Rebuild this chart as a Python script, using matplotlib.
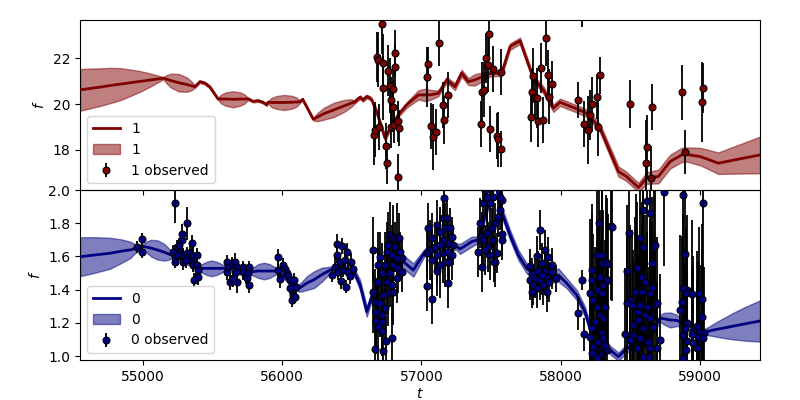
import matplotlib
matplotlib.use("Agg")
import matplotlib.pyplot as plt
import numpy as np

# ---------------- model curves (t, mean, half-width of band) ----------------
t1_model = [54550, 54620, 54694, 54766, 54838, 54909, 54981, 55040, 55100, 55148,
            55175, 55205, 55261, 55318, 55348, 55375,
            55411, 55447, 55483, 55540,
            55565, 55595, 55648, 55700, 55730, 55756,
            55792, 55827, 55863, 55890, 55899,
            55925, 55960, 56015, 56070, 56103, 56129,
            56148, 56224,
            56250, 56300, 56373, 56445, 56495, 56524,
            56536, 56560, 56581, 56608, 56631, 56644, 56679,
            56739, 56787, 56834, 56895, 56978, 57026, 57062, 57122, 57182, 57241,
            57289, 57337, 57385, 57440, 57493, 57576, 57636, 57708, 57803, 57875,
            57947, 57995, 58103, 58187, 58282, 58414, 58470, 58558, 58617, 58701,
            58785, 58868, 58904, 59000, 59060, 59131, 59287, 59430]
f1_model = [20.62, 20.68, 20.74, 20.81, 20.87, 20.93, 20.99, 21.04, 21.09, 21.13,
            21.08, 21.02, 20.93, 20.85, 20.80, 20.76,
            20.98, 20.91, 20.74, 20.23,
            20.22, 20.22, 20.21, 20.22, 20.22, 20.23,
            20.12, 20.15, 20.08, 19.97, 20.08,
            20.07, 20.07, 20.07, 20.08, 20.09, 20.10,
            20.21, 19.34,
            19.42, 19.58, 19.75, 19.92, 20.04, 20.10,
            20.18, 20.30, 20.18, 20.33, 20.26, 20.18, 19.67,
            18.51, 19.09, 19.53, 19.97, 20.40, 20.40, 20.40, 20.47, 21.06, 20.76,
            21.35, 20.98, 21.06, 21.20, 21.33, 21.35, 22.51, 22.76, 21.13, 20.62,
            19.82, 20.08, 19.82, 19.60, 18.95, 17.06, 16.85, 16.36, 16.77, 16.84,
            17.49, 17.78, 17.80, 17.71, 17.58, 17.42, 17.61, 17.78]
s1_model = [0.91, 0.87, 0.82, 0.77, 0.70, 0.58, 0.45, 0.32, 0.17, 0.05,
            0.20, 0.31, 0.38, 0.31, 0.20, 0.05,
            0.05, 0.06, 0.06, 0.05,
            0.20, 0.29, 0.35, 0.29, 0.20, 0.05,
            0.05, 0.05, 0.05, 0.05, 0.05,
            0.20, 0.28, 0.33, 0.28, 0.20, 0.05,
            0.05, 0.05,
            0.17, 0.26, 0.31, 0.26, 0.17, 0.06,
            0.08, 0.08, 0.08, 0.08, 0.08, 0.08, 0.10,
            0.12, 0.10, 0.10, 0.12, 0.20, 0.27, 0.22, 0.12, 0.12, 0.15,
            0.15, 0.15, 0.25, 0.18, 0.12, 0.12, 0.14, 0.14, 0.14, 0.15,
            0.16, 0.16, 0.16, 0.16, 0.18, 0.22, 0.20, 0.20, 0.25, 0.30,
            0.30, 0.31, 0.31, 0.38, 0.42, 0.47, 0.64, 0.80]

t0_model = [54550, 54650, 54766, 54850, 54909, 54957, 55004,
            55030, 55060, 55106, 55155, 55185, 55208,
            55261, 55300, 55411,
            55435, 55460, 55495, 55530, 55555, 55578,
            55640, 55782,
            55805, 55830, 55870, 55910, 55935, 55957,
            56021, 56117,
            56145, 56180, 56230, 56285, 56318, 56344,
            56430, 56511, 56560, 56608, 56655, 56727, 56847, 56870, 56942, 57026,
            57134, 57253, 57277, 57361, 57406, 57470, 57528, 57576, 57636, 57696,
            57756, 57816, 57900, 57983, 58043, 58115, 58174, 58210, 58282, 58354,
            58414, 58474, 58522, 58570, 58641, 58713, 58740, 58785, 58830, 58860,
            58904, 59024, 59060, 59120, 59180, 59237, 59330, 59430]
f0_model = [1.598, 1.608, 1.619, 1.632, 1.639, 1.649, 1.659,
            1.656, 1.650, 1.639, 1.625, 1.615, 1.608,
            1.600, 1.580, 1.528,
            1.528, 1.528, 1.528, 1.528, 1.528, 1.528,
            1.536, 1.508,
            1.510, 1.512, 1.512, 1.512, 1.512, 1.512,
            1.480, 1.408,
            1.420, 1.440, 1.460, 1.490, 1.505, 1.518,
            1.530, 1.518, 1.428, 1.267, 1.387, 1.488, 1.558, 1.568, 1.518, 1.628,
            1.659, 1.659, 1.645, 1.689, 1.700, 1.880, 2.050, 1.869, 1.729, 1.608,
            1.528, 1.488, 1.468, 1.488, 1.438, 1.367, 1.267, 1.167, 1.116, 1.036,
            0.996, 1.046, 1.066, 1.086, 1.127, 1.227, 1.225, 1.217, 1.215, 1.205,
            1.187, 1.146, 1.150, 1.161, 1.170, 1.180, 1.195, 1.211]
s0_model = [0.117, 0.108, 0.093, 0.070, 0.050, 0.020, 0.015,
            0.035, 0.050, 0.058, 0.050, 0.035, 0.020,
            0.020, 0.020, 0.020,
            0.030, 0.040, 0.047, 0.040, 0.030, 0.020,
            0.020, 0.020,
            0.030, 0.042, 0.050, 0.042, 0.030, 0.020,
            0.020, 0.020,
            0.030, 0.042, 0.050, 0.042, 0.030, 0.020,
            0.020, 0.020, 0.030, 0.030, 0.020, 0.020, 0.020, 0.040, 0.040, 0.020,
            0.020, 0.020, 0.030, 0.030, 0.020, 0.020, 0.020, 0.030, 0.030, 0.030,
            0.030, 0.030, 0.030, 0.040, 0.030, 0.030, 0.030, 0.025, 0.025, 0.025,
            0.025, 0.025, 0.025, 0.025, 0.025, 0.020, 0.035, 0.045, 0.035, 0.025,
            0.020, 0.015, 0.025, 0.045, 0.063, 0.080, 0.103, 0.124]

# ---------------- observed data, band "1" ----------------
t1_obs = [56660, 56667, 56679, 56691, 56698, 56715, 56722, 56727, 56746, 56755,
          56758, 56775, 56782, 56782, 56799, 56799, 56806, 56811, 56813, 56834,
          56834, 56842, 57043, 57050, 57069, 57086, 57103, 57127, 57157, 57165,
          57193, 57428, 57433, 57452, 57464, 57480, 57488, 57493, 57516, 57545,
          57553, 57574, 57574, 57785, 57792, 57803, 57816, 57832, 57839, 57861,
          57875, 57892, 57907, 57918, 57935, 58126, 58151, 58167, 58198, 58210,
          58227, 58258, 58270, 58282, 58497, 58612, 58619, 58646, 58657, 58868,
          58894, 59012, 59023]
f1_obs = [18.66, 18.87, 22.05, 21.93, 18.99, 23.49, 20.72, 21.78, 18.18, 17.42,
          21.46, 20.81, 20.18, 18.99, 20.66, 19.89, 19.09, 22.22, 21.64, 19.24,
          16.81, 18.95, 21.17, 21.74, 19.05, 18.57, 18.77, 22.66, 19.96, 19.30,
          20.40, 19.14, 20.52, 20.62, 22.00, 21.71, 23.05, 18.92, 21.54, 18.60,
          18.47, 18.04, 21.39, 19.43, 20.52, 21.23, 20.33, 20.26, 19.24, 21.57,
          19.31, 22.87, 21.26, 20.33, 20.87, 20.18, 24.10, 19.12, 18.87, 19.53,
          20.00, 20.33, 19.02, 21.26, 20.00, 17.42, 18.12, 16.77, 19.87, 20.52,
          17.90, 20.08, 20.69]
e1_obs = [1.3, 1.2, 1.1, 1.2, 1.0, 1.3, 1.4, 1.3, 1.0, 0.9,
          1.1, 1.2, 1.0, 0.9, 1.0, 1.1, 0.8, 1.0, 1.0, 0.9,
          1.0, 0.8, 1.3, 0.75, 1.0, 1.45, 1.0, 1.0, 1.0, 1.05,
          1.0, 1.0, 1.3, 1.2, 1.1, 1.2, 1.0, 1.0, 1.0, 1.0,
          1.2, 0.8, 1.0, 1.1, 1.0, 1.2, 1.0, 1.3, 1.1, 1.1,
          1.0, 1.2, 1.1, 1.2, 1.0, 0.8, 0.75, 1.0, 1.5, 1.1,
          1.2, 1.0, 1.3, 0.8, 1.03, 1.9, 1.4, 1.4, 1.0, 1.2,
          0.95, 1.75, 1.1]

# ---------------- observed data, band "0" ----------------
t0_obs = [
    54957, 54997, 54997,
    55232, 55316, 55284, 55280, 55352, 55220, 55244, 55263, 55268, 55232,
    55256, 55291, 55316, 55340, 55327, 55363, 55388, 55232, 55291, 55352,
    55363, 55388, 55395, 55388, 55368, 55399, 55311,
    55603, 55614, 55603, 55639, 55662, 55675, 55670, 55627, 55675, 55650,
    55722, 55718, 55741, 55758, 55765, 55765, 55746,
    55973, 55973, 56009, 56021, 55985, 56033, 56045, 56057, 56069, 56088,
    56098, 56057, 56081, 56069, 56093,
    56392, 56433, 56392, 56464, 56416, 56452, 56495, 56511, 56380, 56400,
    56440, 56476, 56356, 56423, 56457, 56488,
    56655, 56655, 56667, 56674, 56674, 56715, 56715, 56746, 56791, 56667,
    56722, 56691, 56691, 56715, 56739, 56703, 56751, 56763, 56775, 56799,
    56823, 56842, 56811, 56847, 56859, 56823, 56787, 56799, 56834, 56859,
    56823, 56775, 56751, 56787, 56763, 56727, 56703, 56739, 56799, 56715,
    56691,
    57050, 57074, 57062, 57098, 57110, 57134, 57157, 57186, 57165, 57170,
    57205, 57218, 57229, 57193, 57157, 57134, 57110, 57157, 57193, 57218,
    57074, 57134, 57114, 57170, 57200, 57038, 57038, 57078, 57193,
    57421, 57445, 57469, 57433, 57409, 57445, 57469, 57505, 57480, 57516,
    57529, 57552, 57564, 57577, 57493, 57516, 57564, 57433, 57529, 57541,
    57457, 57493, 57577, 57457, 57577, 57521,
    57851, 57887, 57832, 57911, 57864, 57780, 57792, 57839, 57887, 57935,
    57966, 57780, 57816, 57851, 57900, 57918, 57875, 57803, 57828, 57900,
    57792, 57864, 57935,
    58151, 58126, 58169,
    58277, 58359, 58222, 58294, 58222, 58325, 58258, 58294, 58342, 58210,
    58234, 58258, 58282, 58246, 58222, 58210, 58294, 58270, 58234, 58306,
    58222, 58282, 58330, 58258, 58270, 58306, 58282, 58318, 58366, 58330,
    58334, 58294, 58306, 58306, 58318,
    58492, 58569, 58588, 58593, 58617, 58641, 58670, 58657, 58741, 58540,
    58478, 58581, 58605, 58533, 58581, 58641, 58653, 58497, 58478, 58510,
    58569, 58617, 58677, 58689, 58557, 58605, 58641, 58557, 58521, 58593,
    58665, 58462, 58521, 58569, 58629, 58713, 58497, 58545, 58641, 58693,
    58593, 58636, 58545, 58677,
    58880, 59023, 58894, 58904, 58899, 58940, 58995, 59012, 58868, 58856,
    58909, 58976, 58892, 58952, 59000, 58876, 58940, 58988, 59028, 59023,
    58909, 58952, 58980, 58899, 58880, 58880, 59012]
f0_obs = [
    1.655, 1.703, 1.627,
    1.920, 1.799, 1.733, 1.699, 1.679, 1.628, 1.658, 1.669, 1.628, 1.598,
    1.608, 1.608, 1.618, 1.618, 1.598, 1.604, 1.608, 1.568, 1.568, 1.568,
    1.548, 1.548, 1.518, 1.482, 1.458, 1.478, 1.578,
    1.568, 1.538, 1.508, 1.558, 1.568, 1.538, 1.508, 1.448, 1.448, 1.468,
    1.534, 1.508, 1.482, 1.498, 1.534, 1.428, 1.468,
    1.594, 1.518, 1.548, 1.522, 1.462, 1.502, 1.482, 1.458, 1.438, 1.458,
    1.418, 1.412, 1.367, 1.337, 1.357,
    1.675, 1.663, 1.608, 1.628, 1.568, 1.578, 1.568, 1.522, 1.538, 1.508,
    1.518, 1.508, 1.488, 1.454, 1.418, 1.482,
    1.639, 1.387, 1.327, 1.267, 1.211, 1.207, 1.151, 1.092, 1.107, 1.042,
    1.030, 1.448, 1.548, 1.498, 1.548, 1.598, 1.628, 1.669, 1.729, 1.709,
    1.719, 1.713, 1.658, 1.628, 1.588, 1.588, 1.608, 1.548, 1.528, 1.508,
    1.468, 1.498, 1.448, 1.428, 1.378, 1.367, 1.317, 1.287, 1.387, 1.247,
    1.177,
    1.769, 1.709, 1.639, 1.658, 1.789, 1.749, 1.829, 1.829, 1.954, 1.769,
    1.769, 1.719, 1.669, 1.679, 1.699, 1.669, 1.608, 1.618, 1.628, 1.608,
    1.578, 1.548, 1.512, 1.568, 1.568, 1.618, 1.424, 1.341, 1.438,
    1.799, 1.920, 1.960, 1.719, 1.628, 1.699, 1.739, 1.769, 1.658, 1.699,
    1.799, 1.839, 1.880, 1.940, 1.920, 1.960, 1.960, 1.538, 1.568, 1.618,
    1.639, 1.608, 1.699, 2.000, 1.733, 1.564,
    1.759, 1.639, 1.604, 1.598, 1.558, 1.544, 1.492, 1.512, 1.512, 1.504,
    1.468, 1.458, 1.468, 1.458, 1.468, 1.444, 1.428, 1.428, 1.408, 1.384,
    1.387, 1.488, 1.548,
    1.458, 1.257, 1.131,
    1.799, 1.785, 1.518, 1.558, 1.458, 1.568, 1.608, 1.608, 1.458, 1.378,
    1.337, 1.297, 1.247, 1.207, 1.167, 1.116, 1.137, 1.086, 1.056, 1.056,
    1.016, 1.006, 1.036, 0.986, 1.398, 1.428, 1.478, 1.297, 1.779, 1.552,
    1.458, 1.378, 1.227, 1.107, 1.066,
    1.743, 1.709, 1.658, 1.880, 1.934, 1.859, 1.658, 1.558, 1.990, 1.524,
    1.512, 1.478, 1.448, 1.387, 1.387, 1.378, 1.408, 1.337, 1.317, 1.307,
    1.307, 1.297, 1.307, 1.317, 1.267, 1.247, 1.227, 1.217, 1.187, 1.167,
    1.177, 1.131, 1.127, 1.107, 1.086, 1.096, 1.096, 1.046, 1.046, 1.046,
    0.996, 0.996, 1.528, 1.669,
    1.970, 1.920, 1.613, 1.398, 1.378, 1.372, 1.378, 1.344, 1.323, 1.277,
    1.197, 1.183, 1.163, 1.151, 1.146, 1.127, 1.131, 1.116, 1.137, 1.107,
    1.090, 1.076, 1.050, 1.036, 0.990, 1.408, 1.237]
e0_obs = [
    0.035, 0.04, 0.035,
    0.12, 0.10, 0.06, 0.05, 0.05, 0.04, 0.04, 0.04, 0.05, 0.05,
    0.04, 0.04, 0.04, 0.05, 0.04, 0.05, 0.04, 0.04, 0.05, 0.04,
    0.04, 0.05, 0.04, 0.04, 0.04, 0.05, 0.05,
    0.04, 0.04, 0.05, 0.04, 0.05, 0.04, 0.05, 0.05, 0.07, 0.05,
    0.04, 0.05, 0.05, 0.04, 0.04, 0.05, 0.05,
    0.05, 0.04, 0.04, 0.04, 0.05, 0.04, 0.04, 0.04, 0.04, 0.04,
    0.04, 0.04, 0.04, 0.04, 0.04,
    0.06, 0.05, 0.05, 0.05, 0.05, 0.05, 0.05, 0.05, 0.05, 0.05,
    0.04, 0.05, 0.04, 0.05, 0.04, 0.05,
    0.20, 0.25, 0.20, 0.20, 0.20, 0.20, 0.15, 0.15, 0.15, 0.20,
    0.20, 0.20, 0.20, 0.18, 0.20, 0.15, 0.18, 0.20, 0.20, 0.20,
    0.20, 0.15, 0.15, 0.12, 0.12, 0.15, 0.18, 0.20, 0.15, 0.12,
    0.15, 0.20, 0.20, 0.20, 0.20, 0.18, 0.20, 0.18, 0.20, 0.20,
    0.20,
    0.15, 0.15, 0.18, 0.15, 0.15, 0.15, 0.12, 0.12, 0.12, 0.15,
    0.12, 0.12, 0.12, 0.15, 0.15, 0.18, 0.18, 0.18, 0.15, 0.15,
    0.18, 0.20, 0.15, 0.15, 0.15, 0.15, 0.15, 0.15, 0.15,
    0.15, 0.15, 0.15, 0.15, 0.15, 0.15, 0.15, 0.12, 0.15, 0.12,
    0.12, 0.12, 0.12, 0.12, 0.15, 0.15, 0.12, 0.15, 0.15, 0.12,
    0.15, 0.15, 0.12, 0.15, 0.10, 0.12,
    0.12, 0.12, 0.12, 0.12, 0.12, 0.10, 0.10, 0.12, 0.12, 0.10,
    0.08, 0.12, 0.12, 0.12, 0.12, 0.12, 0.12, 0.12, 0.12, 0.12,
    0.10, 0.12, 0.10,
    0.06, 0.10, 0.10,
    0.40, 0.45, 0.40, 0.45, 0.40, 0.40, 0.45, 0.40, 0.40, 0.45,
    0.40, 0.40, 0.45, 0.45, 0.40, 0.40, 0.40, 0.45, 0.40, 0.45,
    0.40, 0.45, 0.40, 0.40, 0.40, 0.45, 0.40, 0.40, 0.45, 0.40,
    0.40, 0.45, 0.40, 0.40, 0.40,
    0.45, 0.45, 0.40, 0.45, 0.40, 0.45, 0.40, 0.40, 0.45, 0.45,
    0.40, 0.45, 0.40, 0.45, 0.40, 0.45, 0.40, 0.45, 0.40, 0.45,
    0.40, 0.45, 0.40, 0.40, 0.45, 0.40, 0.45, 0.40, 0.45, 0.40,
    0.45, 0.40, 0.45, 0.40, 0.45, 0.40, 0.45, 0.40, 0.45, 0.40,
    0.45, 0.40, 0.40, 0.45,
    0.45, 0.45, 0.40, 0.45, 0.40, 0.45, 0.40, 0.45, 0.40, 0.45,
    0.40, 0.45, 0.40, 0.45, 0.40, 0.45, 0.40, 0.45, 0.40, 0.45,
    0.40, 0.45, 0.40, 0.45, 0.40, 0.45, 0.40]

xlim = (54550, 59430)
ylim_top = (16.25, 23.67)
ylim_bot = (0.976, 2.0)

color1 = "#800000"
color0 = "#000080"

fig, (ax1, ax0) = plt.subplots(2, 1, sharex=True, figsize=(8, 4), dpi=100)
fig.subplots_adjust(left=0.1, right=0.95, top=0.95, bottom=0.1, hspace=0)
ax1.set_zorder(2)
ax1.patch.set_visible(False)


def draw(ax, tm, fm, sm, to, fo, eo, col, name):
    tm = np.asarray(tm, float)
    fm = np.asarray(fm, float)
    sm = np.asarray(sm, float)
    ln, = ax.plot(tm, fm, color=col, lw=2, label=name, zorder=3)
    band = ax.fill_between(tm, fm - sm, fm + sm, color=col, alpha=0.5,
                           label=name, zorder=2)
    eb = ax.errorbar(to, fo, yerr=eo, fmt="o", color="k", ecolor="k",
                     elinewidth=1.3, ms=5, mfc=col, mec="k", mew=0.8,
                     label=name + " observed", zorder=4)
    ax.legend(handles=[ln, band, eb], loc="lower left")
    ax.set_ylabel("$f$")


draw(ax1, t1_model, f1_model, s1_model, t1_obs, f1_obs, e1_obs, color1, "1")
draw(ax0, t0_model, f0_model, s0_model, t0_obs, f0_obs, e0_obs, color0, "0")

ax1.set_xlim(*xlim)
ax1.set_ylim(*ylim_top)
ax0.set_ylim(*ylim_bot)
ax1.set_yticks([18, 20, 22])
ax0.set_yticks([1.0, 1.2, 1.4, 1.6, 1.8, 2.0])
ax0.set_xticks([55000, 56000, 57000, 58000, 59000])
ax0.set_xlabel("$t$", labelpad=2)

fig.savefig("out.png", dpi=100)
